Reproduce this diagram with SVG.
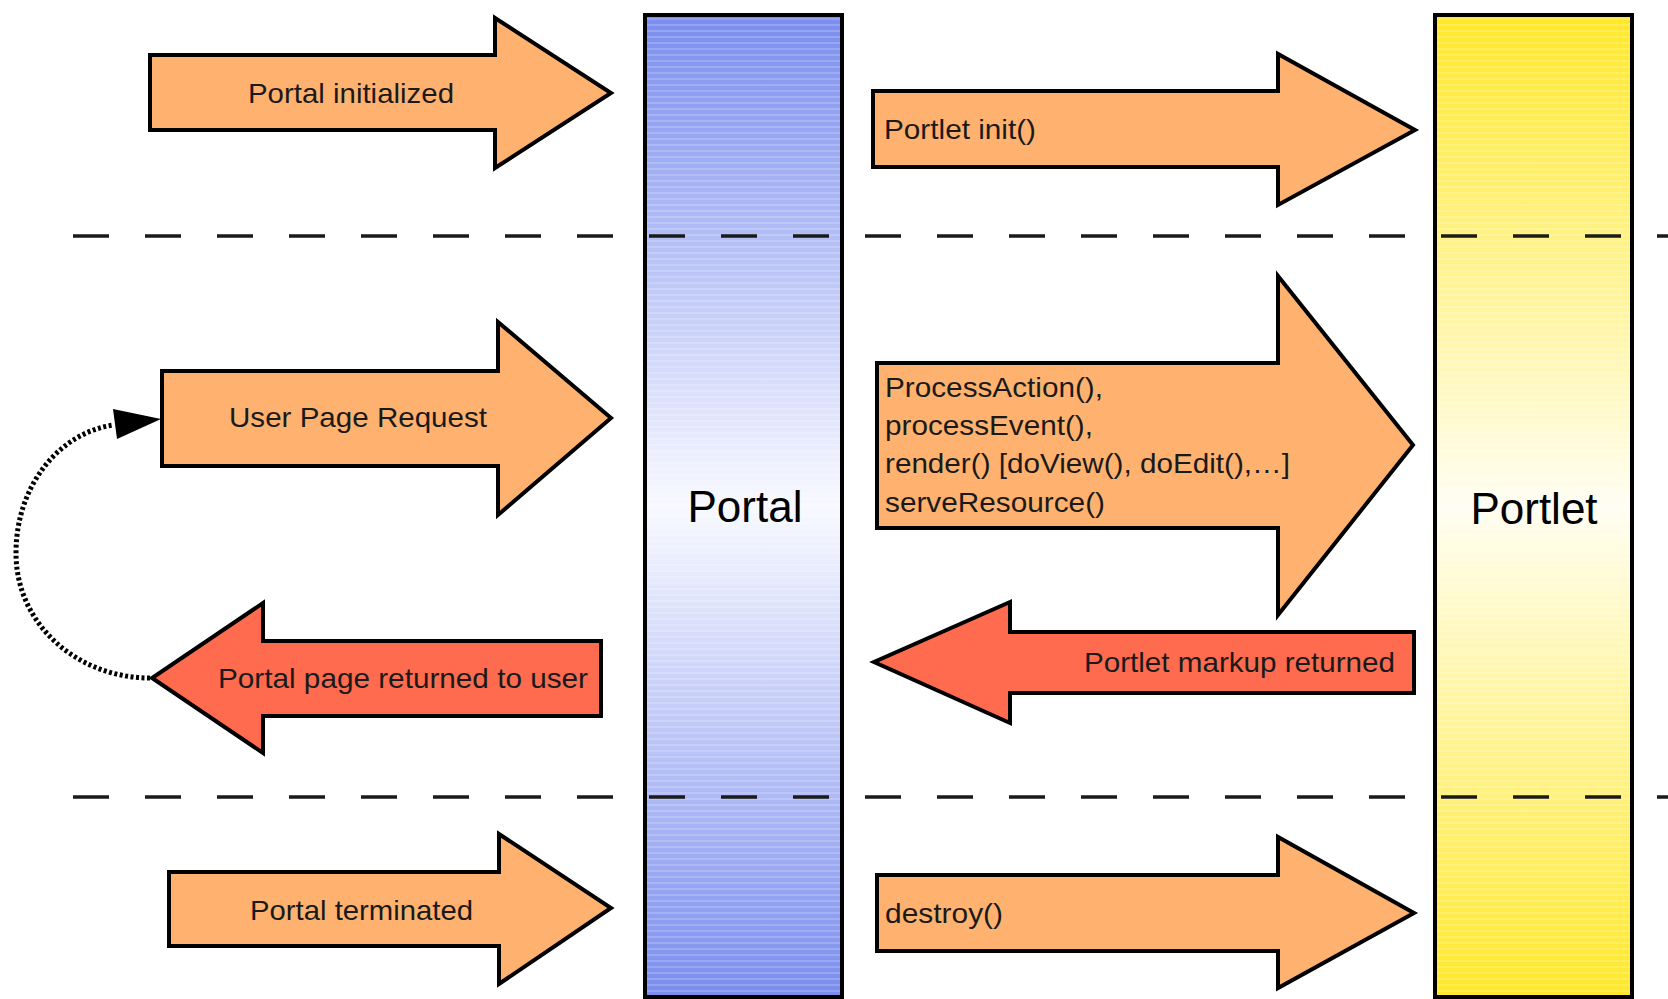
<svg xmlns="http://www.w3.org/2000/svg" width="1668" height="999" viewBox="0 0 1668 999">
<style>
.col{stroke:#000;stroke-width:4}
.arw{stroke:#000;stroke-width:4;stroke-linejoin:miter}
.org{fill:#FFB26F}
.red{fill:#FF6B4E}
.lbl{font-family:"Liberation Sans",Arial,sans-serif;font-size:28px;fill:#1a1a1a}
.big{font-family:"Liberation Sans",Arial,sans-serif;font-size:44px;fill:#000;text-anchor:middle}
.sep{stroke:#1a1a1a;stroke-width:3.5;stroke-dasharray:36 36;fill:none}
</style>
<defs>
<linearGradient id="gBlue" x1="0" y1="0" x2="0" y2="1">
<stop offset="0" stop-color="#7A8DEE"/>
<stop offset="0.5" stop-color="#F8F9FF"/>
<stop offset="1" stop-color="#7A8DEE"/>
</linearGradient>
<linearGradient id="gYel" x1="0" y1="0" x2="0" y2="1">
<stop offset="0" stop-color="#FFE82A"/>
<stop offset="0.5" stop-color="#FFFEF2"/>
<stop offset="1" stop-color="#FFE82A"/>
</linearGradient>
<pattern id="stripes" width="8" height="6" patternUnits="userSpaceOnUse">
<rect x="0" y="0" width="8" height="2" fill="#fff" opacity="0.18"/>
</pattern>
</defs>
<rect width="1668" height="999" fill="#fff"/>

<g id="portal">
<rect class="col" x="645" y="15" width="197" height="982" fill="url(#gBlue)"/>
<rect x="647" y="17" width="193" height="978" fill="url(#stripes)"/>
<text class="big" x="745" y="522">Portal</text>
</g>
<g id="portlet">
<rect class="col" x="1435" y="15" width="197" height="982" fill="url(#gYel)"/>
<rect x="1437" y="17" width="193" height="978" fill="url(#stripes)"/>
<text class="big" x="1534" y="524">Portlet</text>
</g>

<g id="separators">
<line class="sep" x1="73" y1="236" x2="1668" y2="236"/>
<line class="sep" x1="73" y1="797" x2="1668" y2="797"/>
</g>

<g id="portal-initialized">
<polygon class="arw org" points="150,55 495,55 495,18 611,93 495,168 495,130 150,130"/>
<text class="lbl" x="248" y="103" textLength="206" lengthAdjust="spacingAndGlyphs">Portal initialized</text>
</g>
<g id="portlet-init">
<polygon class="arw org" points="873,91 1278,91 1278,54 1415,130 1278,205 1278,167 873,167"/>
<text class="lbl" x="884" y="139" textLength="152" lengthAdjust="spacingAndGlyphs">Portlet init()</text>
</g>
<g id="user-page-request">
<polygon class="arw org" points="162,371 498,371 498,322 611,418 498,515 498,466 162,466"/>
<text class="lbl" x="229" y="427" textLength="258" lengthAdjust="spacingAndGlyphs">User Page Request</text>
</g>
<g id="portal-page-returned">
<polygon class="arw red" points="601,641 263,641 263,603 152,678 263,753 263,716 601,716"/>
<text class="lbl" x="218" y="688" textLength="370" lengthAdjust="spacingAndGlyphs">Portal page returned to user</text>
</g>
<g id="portlet-requests">
<polygon class="arw org" points="877,363 1278,363 1278,276 1413,445 1278,615 1278,528 877,528"/>
<text class="lbl" x="885" y="397" textLength="218" lengthAdjust="spacingAndGlyphs">ProcessAction(),</text>
<text class="lbl" x="885" y="435" textLength="208" lengthAdjust="spacingAndGlyphs">processEvent(),</text>
<text class="lbl" x="885" y="473" textLength="405" lengthAdjust="spacingAndGlyphs">render() [doView(), doEdit(),…]</text>
<text class="lbl" x="885" y="512" textLength="220" lengthAdjust="spacingAndGlyphs">serveResource()</text>
</g>
<g id="portlet-markup-returned">
<polygon class="arw red" points="1414,632 1010,632 1010,602 874,662 1010,723 1010,693 1414,693"/>
<text class="lbl" x="1084" y="672" textLength="311" lengthAdjust="spacingAndGlyphs">Portlet markup returned</text>
</g>
<g id="portal-terminated">
<polygon class="arw org" points="169,872 499,872 499,834 611,908 499,984 499,946 169,946"/>
<text class="lbl" x="250" y="920" textLength="223" lengthAdjust="spacingAndGlyphs">Portal terminated</text>
</g>
<g id="destroy">
<polygon class="arw org" points="877,875 1278,875 1278,837 1414,913 1278,988 1278,951 877,951"/>
<text class="lbl" x="885" y="923" textLength="118" lengthAdjust="spacingAndGlyphs">destroy()</text>
</g>

<g id="connectors">
<path d="M150,678 C78,678 16,625 16,553 C16,485 60,432 114,425" fill="none" stroke="#000" stroke-width="5" stroke-dasharray="3 2.5"/>
<polygon points="113,409 161,419 117,439" fill="#000"/>
</g>
</svg>
